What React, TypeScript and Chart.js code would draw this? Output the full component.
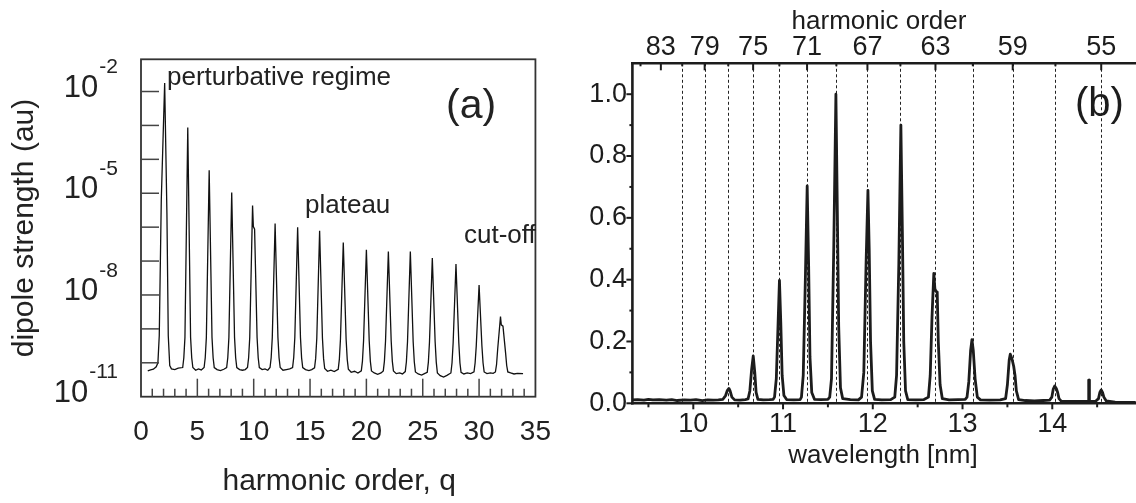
import { useEffect, useRef } from "react";
import { Chart, registerables } from "chart.js";

Chart.register(...registerables);

const FONT = '"Liberation Sans", Arial, Helvetica, sans-serif';

// ---------------- Panel (a) ----------------
const aXTickValues = [0, 5, 10, 15, 20, 25, 30, 35];
const aYDecades = [-10, -9, -8, -7, -6, -5, -4, -3, -2];
const aYLabelExponents = [-2, -5, -8, -11];
const aXTitle = "harmonic order, q";
const aYTitle = "dipole strength (au)";
const aNotes = ["perturbative regime", "plateau", "cut-off"];
const aPanelTag = "(a)";

// [harmonic order q, log10(dipole strength)]
const dipoleSpectrum: [number, number][] = [
  [0.6, -10.24], [0.85, -10.21], [1.1, -10.19], [1.35, -10.12],
  [1.5, -10.0], [1.62, -9.2], [1.8, -5.2], [2.1, -1.75], [2.3, -5.6], [2.42, -9.2], [2.55, -10.08],
  [2.7, -10.18], [3.0, -10.2], [3.3, -10.16],
  [3.7, -10.14], [3.8, -9.85], [3.9, -9.25], [4.15, -3.06], [4.4, -9.25], [4.5, -9.85], [4.6, -10.14],
  [4.85, -10.22], [5.1, -10.18], [5.35, -10.21],
  [5.6, -10.14], [5.7, -9.85], [5.8, -9.25], [6.05, -4.32], [6.3, -9.25], [6.4, -9.85], [6.5, -10.14],
  [6.75, -10.2], [7.05, -10.23], [7.35, -10.19],
  [7.6, -10.14], [7.7, -9.85], [7.8, -9.25], [8.05, -4.98], [8.3, -9.25], [8.4, -9.85], [8.5, -10.14],
  [8.75, -10.2], [9.0, -10.22], [9.25, -10.2],
  [9.45, -10.14], [9.55, -9.85], [9.65, -9.25], [9.9, -5.36], [9.97, -5.98], [10.08, -6.06], [10.3, -9.25], [10.4, -9.85], [10.5, -10.14],
  [10.75, -10.2], [11.0, -10.18], [11.25, -10.22],
  [11.45, -10.14], [11.55, -9.85], [11.65, -9.25], [11.9, -5.89], [12.15, -9.25], [12.25, -9.85], [12.35, -10.14],
  [12.6, -10.22], [12.9, -10.2], [13.2, -10.18],
  [13.45, -10.14], [13.55, -9.85], [13.65, -9.25], [13.9, -6.0], [14.15, -9.25], [14.25, -9.85], [14.35, -10.14],
  [14.6, -10.2], [14.9, -10.23], [15.15, -10.2],
  [15.4, -10.15], [15.5, -9.87], [15.6, -9.27], [15.85, -6.11], [16.1, -9.27], [16.2, -9.87], [16.3, -10.17],
  [16.55, -10.25], [16.85, -10.22], [17.15, -10.26],
  [17.5, -10.19], [17.6, -9.9], [17.7, -9.3], [17.95, -6.45], [18.2, -9.3], [18.3, -9.9], [18.4, -10.19],
  [18.65, -10.28], [18.95, -10.25], [19.25, -10.3],
  [19.55, -10.24], [19.65, -9.95], [19.75, -9.35], [20.0, -6.67], [20.25, -9.35], [20.35, -9.95], [20.45, -10.24],
  [20.7, -10.3], [21.0, -10.34], [21.3, -10.3],
  [21.5, -10.24], [21.6, -9.95], [21.7, -9.35], [21.95, -6.72], [22.2, -9.35], [22.3, -9.95], [22.4, -10.24],
  [22.65, -10.32], [22.95, -10.3], [23.2, -10.33],
  [23.45, -10.26], [23.55, -9.97], [23.65, -9.37], [23.9, -6.72], [24.15, -9.37], [24.25, -9.97], [24.35, -10.27],
  [24.6, -10.33], [24.9, -10.36], [25.15, -10.32],
  [25.4, -10.28], [25.5, -9.98], [25.6, -9.38], [25.85, -6.91], [26.1, -9.38], [26.2, -9.98], [26.3, -10.3],
  [26.55, -10.38], [26.85, -10.42], [27.15, -10.37],
  [27.5, -10.3], [27.6, -10.0], [27.7, -9.4], [27.95, -7.09], [28.2, -9.4], [28.3, -10.0], [28.4, -10.28],
  [28.65, -10.33], [28.95, -10.3], [29.25, -10.32],
  [29.55, -10.27], [29.65, -10.0], [29.75, -9.5], [30.0, -7.71], [30.25, -9.5], [30.35, -10.0], [30.45, -10.27],
  [30.7, -10.32], [31.0, -10.3], [31.25, -10.31],
  [31.45, -10.27], [31.55, -10.05], [31.65, -9.6], [31.9, -8.64], [31.97, -8.88], [32.12, -8.92], [32.35, -9.7], [32.45, -10.08], [32.55, -10.27],
  [32.8, -10.3], [33.1, -10.33], [33.4, -10.31], [33.9, -10.32],
];

// ---------------- Panel (b) ----------------
const bXTickValues = [10, 11, 12, 13, 14];
const bXMinorValues = [9.5, 10.5, 11.5, 12.5, 13.5, 14.5];
const bYTickValues = [0, 0.2, 0.4, 0.6, 0.8, 1.0];
const bYMinorValues = [0.1, 0.3, 0.5, 0.7, 0.9];
const labelledOrders = [83, 79, 75, 71, 67, 63, 59, 55];
const minorOrders = [85, 81, 77, 73, 69, 65, 61, 57];
const dottedOrders = [81, 79, 77, 75, 73, 71, 69, 67, 65, 63, 61, 59, 57, 55];
const driveWavelengthNm = 800;
const bTopTitle = "harmonic order";
const bXTitle = "wavelength [nm]";
const bPanelTag = "(b)";

// [wavelength nm, normalised intensity]
const harmonicSpectrum: [number, number][] = [
  [9.32, 0.011], [9.38, 0.012], [9.45, 0.01], [9.5, 0.013], [9.55, 0.011], [9.62, 0.012], [9.7, 0.01],
  [9.76, 0.012], [9.82, 0.009], [9.9, 0.011], [9.97, 0.01], [10.03, 0.012], [10.1, 0.009], [10.16, 0.011],
  [10.22, 0.01], [10.28, 0.011], [10.33, 0.013],
  [10.36, 0.025], [10.38, 0.042], [10.397, 0.048], [10.41, 0.04], [10.43, 0.02], [10.46, 0.011],
  [10.52, 0.01], [10.58, 0.012], [10.61, 0.014],
  [10.63, 0.04], [10.65, 0.11], [10.668, 0.153], [10.685, 0.1], [10.7, 0.035], [10.72, 0.013],
  [10.78, 0.011], [10.85, 0.012], [10.89, 0.013],
  [10.905, 0.02], [10.925, 0.08], [10.945, 0.26], [10.96, 0.398], [10.975, 0.26], [10.99, 0.09], [11.01, 0.025],
  [11.04, 0.012], [11.12, 0.011], [11.19, 0.012],
  [11.205, 0.02], [11.225, 0.09], [11.25, 0.42], [11.269, 0.703], [11.285, 0.45], [11.3, 0.15], [11.32, 0.035],
  [11.35, 0.013], [11.42, 0.012], [11.5, 0.013],
  [11.52, 0.02], [11.54, 0.08], [11.565, 0.5], [11.589, 1.0], [11.605, 0.62], [11.62, 0.25], [11.64, 0.05],
  [11.665, 0.015], [11.75, 0.012], [11.84, 0.011],
  [11.875, 0.02], [11.9, 0.1], [11.925, 0.45], [11.946, 0.689], [11.96, 0.5], [11.975, 0.2], [11.995, 0.04],
  [12.02, 0.013], [12.1, 0.011], [12.2, 0.012],
  [12.245, 0.02], [12.265, 0.09], [12.29, 0.45], [12.313, 0.9], [12.33, 0.55], [12.345, 0.2], [12.365, 0.04],
  [12.39, 0.012], [12.48, 0.011], [12.57, 0.012],
  [12.62, 0.02], [12.64, 0.09], [12.66, 0.28], [12.68, 0.42], [12.692, 0.37], [12.705, 0.362], [12.718, 0.36],
  [12.73, 0.2], [12.75, 0.06], [12.775, 0.015], [12.85, 0.011], [12.95, 0.012], [13.03, 0.013],
  [13.05, 0.02], [13.07, 0.07], [13.09, 0.17], [13.105, 0.206], [13.12, 0.17], [13.14, 0.08], [13.165, 0.02],
  [13.2, 0.011], [13.3, 0.01], [13.42, 0.011],
  [13.48, 0.015], [13.5, 0.06], [13.52, 0.14], [13.532, 0.159], [13.55, 0.145], [13.57, 0.12], [13.585, 0.09],
  [13.6, 0.04], [13.625, 0.012], [13.7, 0.009], [13.8, 0.008], [13.9, 0.009], [13.97, 0.01],
  [13.995, 0.02], [14.01, 0.045], [14.027, 0.056], [14.045, 0.048], [14.06, 0.035], [14.075, 0.015],
  [14.1, 0.007], [14.2, 0.006], [14.3, 0.006], [14.39, 0.006],
  [14.402, 0.006], [14.406, 0.075], [14.41, 0.075], [14.414, 0.006], [14.48, 0.006],
  [14.515, 0.015], [14.53, 0.035], [14.545, 0.043], [14.56, 0.035], [14.575, 0.02], [14.6, 0.008],
  [14.7, 0.004], [14.8, 0.003], [14.93, 0.003],
];

const INK = "#1c1c1c";

function line(ctx: CanvasRenderingContext2D, x1: number, y1: number, x2: number, y2: number) {
  ctx.beginPath();
  ctx.moveTo(x1, y1);
  ctx.lineTo(x2, y2);
  ctx.stroke();
}

const panelAPlugin = {
  id: "panelA",
  afterDraw(chart: any) {
    const ctx: CanvasRenderingContext2D = chart.ctx;
    const { left, right, top, bottom } = chart.chartArea;
    const xs = chart.scales.x;
    const ys = chart.scales.y;
    ctx.save();
    ctx.strokeStyle = "#333";
    ctx.lineWidth = 1.8;
    ctx.strokeRect(left, top, right - left, bottom - top);
    ctx.lineWidth = 1.5;
    ctx.strokeStyle = "#444";
    for (const e of aYDecades) {
      const y = ys.getPixelForValue(Math.pow(10, e));
      line(ctx, left, y, left + 18, y);
    }
    for (let q = 1; q < 35; q++) {
      const x = xs.getPixelForValue(q);
      const len = q % 5 === 0 ? 18 : 8;
      line(ctx, x, bottom, x, bottom - len);
    }
    // y tick labels 10^n
    ctx.fillStyle = "#222";
    ctx.textBaseline = "alphabetic";
    for (const e of aYLabelExponents) {
      const y = ys.getPixelForValue(Math.pow(10, e));
      const base = "10";
      const sup = `${e}`;
      ctx.font = `31px ${FONT}`;
      const wb = ctx.measureText(base).width;
      ctx.font = `21px ${FONT}`;
      const ws = ctx.measureText(sup).width;
      const x0 = 117 - wb - ws;
      ctx.font = `31px ${FONT}`;
      ctx.textAlign = "left";
      ctx.fillText(base, x0, y + 5);
      ctx.font = `21px ${FONT}`;
      ctx.fillText(sup, x0 + wb + 1, y - 18.4);
    }
    // titles
    ctx.font = `30px ${FONT}`;
    ctx.textAlign = "center";
    ctx.fillText(aXTitle, (left + right) / 2 + 1, 490);
    ctx.save();
    ctx.translate(25, (top + bottom) / 2);
    ctx.rotate(-Math.PI / 2);
    ctx.textBaseline = "middle";
    ctx.fillText(aYTitle, 0, 0);
    ctx.restore();
    // annotations
    ctx.textAlign = "left";
    ctx.font = `26px ${FONT}`;
    ctx.fillText(aNotes[0], 167, 85);
    ctx.fillText(aNotes[1], 305, 213);
    ctx.fillText(aNotes[2], 464, 243);
    ctx.font = `41px ${FONT}`;
    ctx.fillText(aPanelTag, 446, 117.5);
    ctx.restore();
  },
};

const panelBPlugin = {
  id: "panelB",
  beforeDatasetsDraw(chart: any) {
    const ctx: CanvasRenderingContext2D = chart.ctx;
    const { top, bottom } = chart.chartArea;
    const xs = chart.scales.x;
    ctx.save();
    ctx.strokeStyle = "#222";
    ctx.lineWidth = 1;
    ctx.setLineDash([3, 2.5]);
    for (const q of dottedOrders) {
      const x = Math.round(xs.getPixelForValue(driveWavelengthNm / q)) + 0.5;
      line(ctx, x, top, x, bottom);
    }
    ctx.restore();
  },
  afterDatasetsDraw(chart: any) {
    const ctx: CanvasRenderingContext2D = chart.ctx;
    const { left, right, top, bottom } = chart.chartArea;
    const xs = chart.scales.x;
    const ys = chart.scales.y;
    ctx.save();
    ctx.strokeStyle = INK;
    ctx.lineWidth = 2;
    for (const v of bXTickValues) {
      const x = xs.getPixelForValue(v);
      line(ctx, x, bottom, x, bottom + 6);
    }
    for (const v of bXMinorValues) {
      const x = xs.getPixelForValue(v);
      line(ctx, x, bottom, x, bottom + 4);
    }
    for (const v of bYTickValues) {
      const y = ys.getPixelForValue(v);
      line(ctx, left - 6, y, left, y);
    }
    for (const v of bYMinorValues) {
      const y = ys.getPixelForValue(v);
      line(ctx, left - 3, y, left, y);
    }
    for (const q of labelledOrders) {
      const x = xs.getPixelForValue(driveWavelengthNm / q);
      line(ctx, x, top, x, top + 7);
    }
    for (const q of minorOrders) {
      const x = xs.getPixelForValue(driveWavelengthNm / q);
      line(ctx, x, top, x, top + 3);
    }
    ctx.lineWidth = 2.6;
    ctx.lineCap = "square";
    line(ctx, left, top, left, bottom);
    line(ctx, left, bottom, right, bottom);
    line(ctx, left, top, right, top);
    ctx.restore();
  },
  afterDraw(chart: any) {
    const ctx: CanvasRenderingContext2D = chart.ctx;
    ctx.save();
    ctx.fillStyle = INK;
    ctx.textBaseline = "alphabetic";
    ctx.textAlign = "center";
    ctx.font = `26px ${FONT}`;
    ctx.fillText(bTopTitle, 309, 28.5);
    ctx.fillText(bXTitle, 313, 463);
    ctx.textAlign = "left";
    ctx.font = `40px ${FONT}`;
    ctx.fillText(bPanelTag, 505, 115.5);
    ctx.restore();
  },
};

export default function App() {
  const refA = useRef<HTMLCanvasElement>(null);
  const refB = useRef<HTMLCanvasElement>(null);

  useEffect(() => {
    const chartA = new Chart(refA.current as HTMLCanvasElement, {
      type: "line",
      data: {
        datasets: [
          {
            data: dipoleSpectrum.map(([q, e]) => ({ x: q, y: Math.pow(10, e) })),
            borderColor: "#111",
            borderWidth: 1.3,
            pointRadius: 0,
            tension: 0,
            fill: false,
          },
        ],
      },
      options: {
        responsive: false,
        animation: false,
        devicePixelRatio: 1,
        events: [],
        layout: { padding: { left: 141, right: 30.7, top: 59.3, bottom: 0 } },
        plugins: { legend: { display: false }, tooltip: { enabled: false } },
        scales: {
          x: {
            type: "linear",
            position: "bottom",
            min: 0,
            max: 35,
            grid: { display: false, drawTicks: false },
            border: { display: false },
            afterBuildTicks: (s: any) => {
              s.ticks = aXTickValues.map((v) => ({ value: v }));
            },
            afterFit: (s: any) => {
              s.height = 106.3;
            },
            ticks: {
              autoSkip: false,
              maxRotation: 0,
              padding: 19,
              color: "#222",
              font: { family: FONT, size: 28 },
              callback: (v: any) => String(v),
            },
          },
          y: {
            type: "logarithmic",
            min: 1e-11,
            max: Math.pow(10, -1.05),
            display: false,
          },
        },
      } as any,
      plugins: [panelAPlugin],
    });

    const lambdaMin = 9.3214;
    const lambdaMax = 14.933;
    const chartB = new Chart(refB.current as HTMLCanvasElement, {
      type: "line",
      data: {
        datasets: [
          {
            data: harmonicSpectrum.map(([x, y]) => ({ x, y })),
            borderColor: INK,
            borderWidth: 2.8,
            pointRadius: 0,
            tension: 0,
            fill: false,
            borderJoinStyle: "round",
          },
        ],
      },
      options: {
        responsive: false,
        animation: false,
        devicePixelRatio: 1,
        events: [],
        layout: { padding: 0 },
        plugins: { legend: { display: false }, tooltip: { enabled: false } },
        scales: {
          x: {
            type: "linear",
            position: "bottom",
            min: lambdaMin,
            max: lambdaMax,
            grid: { display: false, drawTicks: false },
            border: { display: false },
            afterBuildTicks: (s: any) => {
              s.ticks = bXTickValues.map((v) => ({ value: v }));
            },
            afterFit: (s: any) => {
              s.height = 99.7;
            },
            ticks: {
              autoSkip: false,
              maxRotation: 0,
              padding: 5.5,
              color: INK,
              font: { family: FONT, size: 27 },
              callback: (v: any) => String(v),
            },
          },
          x2: {
            type: "linear",
            position: "top",
            min: lambdaMin,
            max: lambdaMax,
            grid: { display: false, drawTicks: false },
            border: { display: false },
            afterBuildTicks: (s: any) => {
              s.ticks = labelledOrders.map((q) => ({ value: driveWavelengthNm / q }));
            },
            afterFit: (s: any) => {
              s.height = 63.3;
            },
            ticks: {
              autoSkip: false,
              maxRotation: 0,
              padding: 0,
              color: INK,
              font: { family: FONT, size: 27 },
              callback: (v: any) => String(Math.round(driveWavelengthNm / Number(v))),
            },
          },
          y: {
            type: "linear",
            position: "left",
            min: 0,
            max: 1.1,
            grid: { display: false, drawTicks: false },
            border: { display: false },
            afterBuildTicks: (s: any) => {
              s.ticks = bYTickValues.map((v) => ({ value: v }));
            },
            afterFit: (s: any) => {
              s.width = 62.4;
            },
            ticks: {
              autoSkip: false,
              padding: 5.5,
              color: INK,
              font: { family: FONT, size: 27 },
              callback: (v: any) => Number(v).toFixed(1),
            },
          },
        },
      } as any,
      plugins: [panelBPlugin],
    });

    return () => {
      chartA.destroy();
      chartB.destroy();
    };
  }, []);

  return (
    <div
      style={{
        position: "fixed",
        left: 0,
        top: 0,
        width: 1136,
        height: 503,
        background: "#fff",
        overflow: "hidden",
      }}
    >
      <canvas ref={refA} width={570} height={503} style={{ position: "absolute", left: 0, top: 0 }} />
      <canvas ref={refB} width={566} height={503} style={{ position: "absolute", left: 570, top: 0 }} />
    </div>
  );
}
